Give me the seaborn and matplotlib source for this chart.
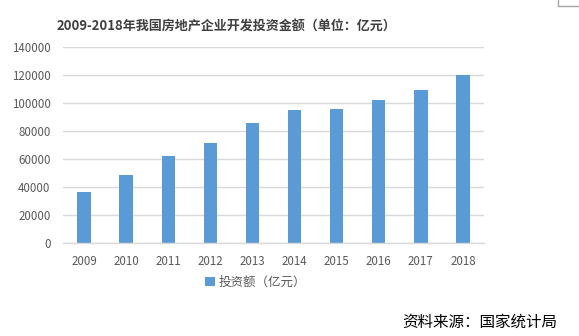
import matplotlib
matplotlib.use("Agg")
import matplotlib.pyplot as plt
from matplotlib.patches import Patch
from matplotlib.lines import Line2D
import pandas as pd
import seaborn as sns

years = ["2009", "2010", "2011", "2012", "2013", "2014", "2015", "2016", "2017", "2018"]
investment = [36232, 48259, 61797, 71804, 86013, 95036, 95979, 102581, 109799, 120264]
y_ticks = [0, 20000, 40000, 60000, 80000, 100000, 120000, 140000]

title = "2009-2018年我国房地产企业开发投资金额（单位：亿元）"
series_name = "投资额（亿元）"
source = "资料来源：国家统计局"

sns.set_theme(style="white")
plt.rcParams["font.family"] = ["Noto Sans CJK SC", "DejaVu Sans"]

bar_color = "#5B9BD5"
grid_color = "#D9D9D9"
tick_color = "#595959"

df = pd.DataFrame({"year": years, "value": investment})

fig = plt.figure(figsize=(5.79, 3.36), dpi=100)
ax = fig.add_axes([63 / 579, 1 - 242.7 / 336, 421 / 579, (242.7 - 47.4) / 336])

sns.barplot(data=df, x="year", y="value", color=bar_color, width=0.32,
            saturation=1, ax=ax, edgecolor="none")

ax.set_ylim(0, 140000)
ax.set_xlim(-0.5, len(years) - 0.5)
ax.set_yticks(y_ticks)
ax.set_yticklabels([str(v) for v in y_ticks])
ax.yaxis.grid(True, color=grid_color, linewidth=1.0)
ax.set_axisbelow(True)
for side in ["top", "right", "left"]:
    ax.spines[side].set_visible(False)
ax.spines["bottom"].set_color(grid_color)
ax.spines["bottom"].set_linewidth(1.0)
ax.set_xlabel("")
ax.set_ylabel("")
ax.tick_params(axis="both", length=0, colors=tick_color, labelsize=8.3)
ax.tick_params(axis="y", pad=9)
ax.tick_params(axis="x", pad=9)

fig.text(57 / 579, 1 - 27 / 336, title, fontsize=9.4, fontweight="bold",
         color="#404040", ha="left", va="center")

handle = Patch(facecolor=bar_color, edgecolor="none")
fig.legend([handle], [series_name], loc="center left",
           bbox_to_anchor=(194 / 579, 1 - 282 / 336), frameon=False,
           fontsize=9, handlelength=0.75, handleheight=0.75, handletextpad=0.35,
           labelcolor=tick_color)

fig.text(402 / 579, 1 - 322 / 336, source, fontsize=11.2, style="italic",
         color="black", ha="left", va="center")

# small frame corner in the upper right
fig.add_artist(Line2D([558 / 579, 558 / 579], [1.0, 1 - 6 / 336],
                      transform=fig.transFigure, color="#A6A6A6", linewidth=1))
fig.add_artist(Line2D([558 / 579, 1.0], [1 - 6 / 336, 1 - 6 / 336],
                      transform=fig.transFigure, color="#A6A6A6", linewidth=1))

fig.savefig("out.png", dpi=100, facecolor="white")
